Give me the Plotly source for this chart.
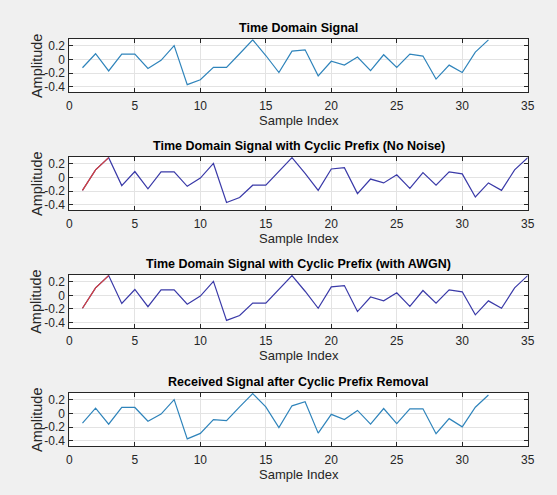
import plotly.graph_objects as go

# ---- data ----
sample_index = list(range(1, 33))
signal = [-0.12, 0.086, -0.167, 0.08, 0.08, -0.13, -0.01, 0.205, -0.367, -0.295,
          -0.114, -0.114, 0.086, 0.29, 0.06, -0.19, 0.124, 0.143, -0.238, -0.024,
          -0.081, 0.038, -0.162, 0.071, -0.114, 0.081, 0.052, -0.286, -0.081, -0.19,
          0.11, 0.29]
cp_len = 3
cp_index = list(range(1, 36))
signal_cp = signal[-cp_len:] + signal
signal_cp_awgn = signal[-cp_len:] + signal
received = [-0.14, 0.076, -0.157, 0.086, 0.086, -0.114, -0.01, 0.2, -0.37, -0.29,
            -0.09, -0.105, 0.095, 0.286, 0.095, -0.205, 0.11, 0.17, -0.286, -0.014,
            -0.09, 0.043, -0.157, 0.071, -0.148, 0.067, 0.067, -0.295, -0.076, -0.195,
            0.09, 0.267]
titles = ["Time Domain Signal",
          "Time Domain Signal with Cyclic Prefix (No Noise)",
          "Time Domain Signal with Cyclic Prefix (with AWGN)",
          "Received Signal after Cyclic Prefix Removal"]
x_ticks = [0, 5, 10, 15, 20, 25, 30, 35]
y_ticks = [-0.4, -0.2, 0, 0.2]
y_tick_text = ["-0.4", "-0.2", "0", "0.2"]

W, H = 557, 495
FONT = "Liberation Sans, Arial, sans-serif"
light_blue = "#2f84bb"
dark_blue = "#3a3aa8"
red = "#d9403a"

# panel pixel geometry (top, bottom)
panels = [(39.3, 92.7), (157.6, 211.0), (276.0, 329.4), (394.3, 448.3)]
x_left, x_right = 67.6, 534.3

fig = go.Figure()

def add(i, x, y, color):
    fig.add_trace(go.Scatter(x=x, y=y, mode="lines", line=dict(color=color, width=1.2),
                             xaxis="x" if i == 0 else f"x{i+1}",
                             yaxis="y" if i == 0 else f"y{i+1}",
                             showlegend=False, hoverinfo="skip"))

add(0, sample_index, signal, light_blue)
add(1, cp_index, signal_cp, dark_blue)
add(1, cp_index[:cp_len], signal_cp[:cp_len], red)
add(2, cp_index, signal_cp_awgn, dark_blue)
add(2, cp_index[:cp_len], signal_cp_awgn[:cp_len], red)
add(3, sample_index, received, light_blue)

layout = dict(
    width=W, height=H, margin=dict(l=0, r=0, t=0, b=0),
    paper_bgcolor="#f0f0f0", plot_bgcolor="#ffffff",
    font=dict(family=FONT, size=12, color="#262626"),
    annotations=[],
)
xd = [x_left / W, x_right / W]
xc = (x_left + x_right) / 2 / W
for i, (top, bot) in enumerate(panels):
    sfx = "" if i == 0 else str(i + 1)
    anchor_x = "x" + sfx
    anchor_y = "y" + sfx
    layout["xaxis" + sfx] = dict(
        domain=xd, anchor=anchor_y, range=[0, 35], tickvals=x_ticks,
        ticks="inside", ticklen=4, tickcolor="#262626", mirror="ticks",
        showline=True, linecolor="#262626", linewidth=1,
        showgrid=True, gridcolor="#e3e3e3", gridwidth=1, zeroline=False,
        tickfont=dict(size=12, color="#262626"), fixedrange=True,
        ticklabelstandoff=2,
    )
    layout["yaxis" + sfx] = dict(
        domain=[1 - bot / H, 1 - top / H], anchor=anchor_x, range=[-0.48, 0.3],
        tickvals=y_ticks, ticktext=y_tick_text,
        ticks="inside", ticklen=4, tickcolor="#262626", mirror="ticks",
        showline=True, linecolor="#262626", linewidth=1,
        showgrid=True, gridcolor="#e3e3e3", gridwidth=1, zeroline=False,
        tickfont=dict(size=12, color="#262626"), fixedrange=True,
        ticklabelstandoff=1,
    )
    # title
    layout["annotations"].append(dict(
        text="<b>" + titles[i] + "</b>", x=xc, y=1 - (top - 11) / H,
        xref="paper", yref="paper", showarrow=False, xanchor="center", yanchor="middle",
        font=dict(size=12.5, color="#000000")))
    # x label
    layout["annotations"].append(dict(
        text="Sample Index", x=xc, y=1 - (bot + 28) / H,
        xref="paper", yref="paper", showarrow=False, xanchor="center", yanchor="middle",
        font=dict(size=13, color="#262626")))
    # y label
    layout["annotations"].append(dict(
        text="Amplitude", x=34 / W, y=1 - (top + bot) / 2 / H, textangle=-90,
        xref="paper", yref="paper", showarrow=False, xanchor="center", yanchor="middle",
        font=dict(size=14.5, color="#262626")))

fig.update_layout(**layout)
fig.write_html("out.html")
